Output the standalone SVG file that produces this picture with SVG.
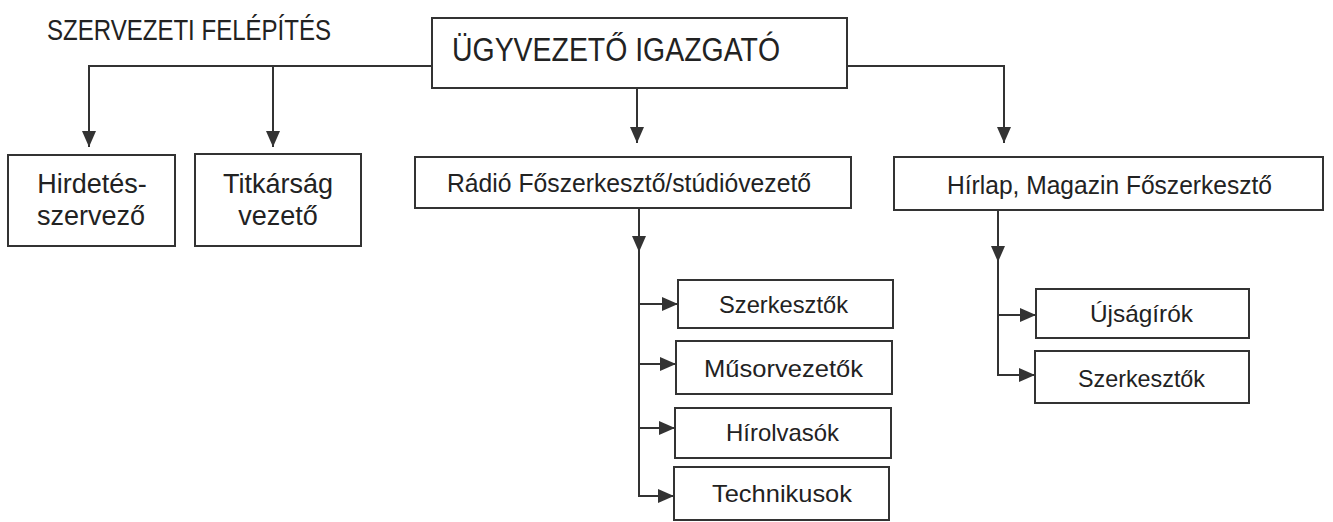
<svg xmlns="http://www.w3.org/2000/svg" width="1333" height="522" viewBox="0 0 1333 522">
<style>
.box{fill:#fff;stroke:#333;stroke-width:2}
.t{font-family:"Liberation Sans",Arial,sans-serif;fill:#222}
.c{fill:none;stroke:#333;stroke-width:2}
</style>
<defs>
<marker id="arr" viewBox="0 0 16 14" refX="16" refY="7" markerWidth="16" markerHeight="14" markerUnits="userSpaceOnUse" orient="auto">
<path d="M0,0 L16,7 L0,14 Z" fill="#333"/>
</marker>
</defs>
<rect width="1333" height="522" fill="#fff"/>
<text class="t" x="47" y="40" font-size="29" textLength="284" lengthAdjust="spacingAndGlyphs">SZERVEZETI FELÉPÍTÉS</text>
<g id="connectors">
<path class="c" d="M432,66 H89 V147" marker-end="url(#arr)"/>
<path class="c" d="M273,66 V147" marker-end="url(#arr)"/>
<path class="c" d="M637,88 V143" marker-end="url(#arr)"/>
<path class="c" d="M847,66 H1004 V143" marker-end="url(#arr)"/>
<path class="c" d="M639,208 V252" marker-end="url(#arr)"/>
<path class="c" d="M639,250 V496"/>
<path class="c" d="M639,304 H678" marker-end="url(#arr)"/>
<path class="c" d="M639,364 H676" marker-end="url(#arr)"/>
<path class="c" d="M639,428 H675" marker-end="url(#arr)"/>
<path class="c" d="M638,496 H674" marker-end="url(#arr)"/>
<path class="c" d="M998,210 V262" marker-end="url(#arr)"/>
<path class="c" d="M998,260 V375"/>
<path class="c" d="M998,315 H1036" marker-end="url(#arr)"/>
<path class="c" d="M997,375 H1035" marker-end="url(#arr)"/>
</g>
<g id="ceo">
<rect class="box" x="432" y="18" width="415" height="70"/>
<text class="t" x="452" y="61" font-size="34" textLength="328" lengthAdjust="spacingAndGlyphs">ÜGYVEZETŐ IGAZGATÓ</text>
</g>
<g id="hirdetes">
<rect class="box" x="8" y="155" width="167" height="91"/>
<text class="t" x="92" y="193" font-size="27" text-anchor="middle">Hirdetés-</text>
<text class="t" x="91" y="225" font-size="27" text-anchor="middle">szervező</text>
</g>
<g id="titkarsag">
<rect class="box" x="195" y="154" width="166" height="92"/>
<text class="t" x="278" y="193" font-size="27" text-anchor="middle">Titkárság</text>
<text class="t" x="278" y="225" font-size="27" text-anchor="middle">vezető</text>
</g>
<g id="radio">
<rect class="box" x="415" y="157" width="436" height="51"/>
<text class="t" x="447" y="192" font-size="25" textLength="364" lengthAdjust="spacingAndGlyphs">Rádió Főszerkesztő/stúdióvezető</text>
</g>
<g id="hirlap">
<rect class="box" x="894" y="157" width="429" height="53"/>
<text class="t" x="947" y="194" font-size="25" textLength="325" lengthAdjust="spacingAndGlyphs">Hírlap, Magazin Főszerkesztő</text>
</g>
<g id="r-szerkesztok">
<rect class="box" x="678" y="280" width="215" height="48"/>
<text class="t" x="719" y="313" font-size="24" textLength="129" lengthAdjust="spacingAndGlyphs">Szerkesztők</text>
</g>
<g id="musorvezetok">
<rect class="box" x="676" y="341" width="216" height="53"/>
<text class="t" x="704" y="377" font-size="24" textLength="159" lengthAdjust="spacingAndGlyphs">Műsorvezetők</text>
</g>
<g id="hirolvasok">
<rect class="box" x="675" y="408" width="216" height="50"/>
<text class="t" x="726" y="441" font-size="24" textLength="113" lengthAdjust="spacingAndGlyphs">Hírolvasók</text>
</g>
<g id="technikusok">
<rect class="box" x="674" y="467" width="215" height="53"/>
<text class="t" x="712" y="502" font-size="24" textLength="140" lengthAdjust="spacingAndGlyphs">Technikusok</text>
</g>
<g id="ujsagirok">
<rect class="box" x="1036" y="289" width="213" height="49"/>
<text class="t" x="1090" y="322" font-size="24" textLength="103" lengthAdjust="spacingAndGlyphs">Újságírók</text>
</g>
<g id="h-szerkesztok">
<rect class="box" x="1035" y="351" width="214" height="52"/>
<text class="t" x="1078" y="387" font-size="24" textLength="127" lengthAdjust="spacingAndGlyphs">Szerkesztők</text>
</g>
</svg>
